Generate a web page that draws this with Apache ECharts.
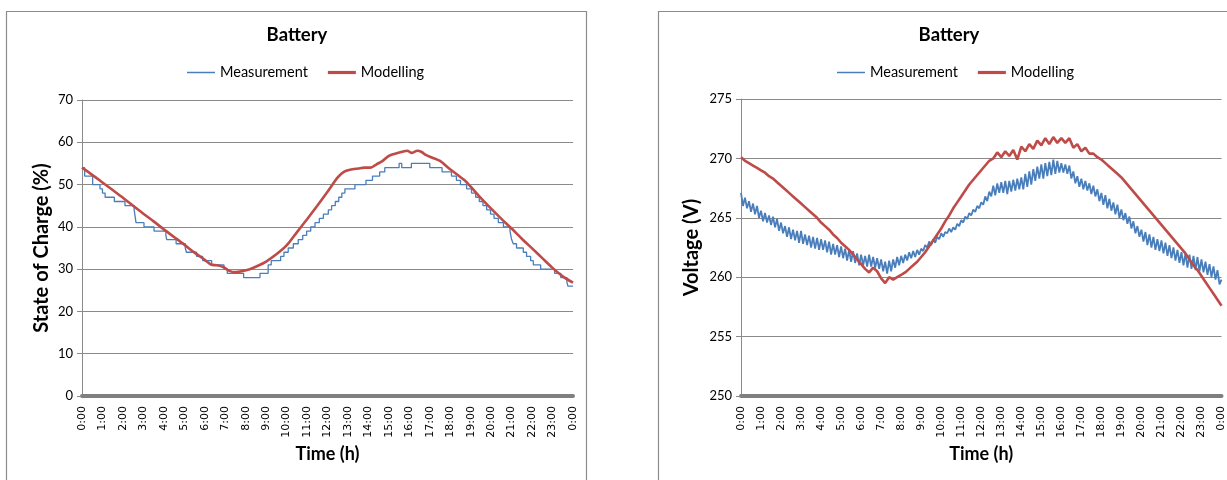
<!DOCTYPE html>
<html><head><meta charset="utf-8">
<script src="https://cdn.jsdelivr.net/npm/echarts@6/dist/echarts.min.js"></script>
<style>html,body{margin:0;padding:0;background:#fff}#c{width:1227px;height:480px}</style>
</head><body><div id="c"></div>
<script>
const hourLabels = ['0:00','1:00','2:00','3:00','4:00','5:00','6:00','7:00','8:00','9:00','10:00','11:00','12:00',
  '13:00','14:00','15:00','16:00','17:00','18:00','19:00','20:00','21:00','22:00','23:00','0:00'];
const seriesNames = ['Measurement', 'Modelling'];

// State of charge: measured (stepwise, [hour, %]) and modelled
const socMeasurement = [[0,54],[0.13,52],[0.52,50],[0.88,49],[1.0,48],[1.13,47],[1.58,46],[2.1,45],[2.55,44],[2.64,41],
  [3.03,40],[3.52,39],[4.1,38],[4.14,37],[4.6,36],[5.05,35],[5.1,34],[5.6,33],[5.9,32],[6.34,31],[6.94,30],[7.1,29],
  [7.9,28],[8.7,29],[9.1,31],[9.25,32],[9.71,33],[9.87,34],[10.08,35],[10.33,36],[10.57,37],[10.79,38],[10.98,39],
  [11.18,40],[11.39,41],[11.6,42],[11.8,43],[12.04,44],[12.2,45],[12.38,46],[12.55,47],[12.7,48],[12.85,49],[13.34,50],
  [13.88,51],[14.2,52],[14.55,53],[14.8,54],[15.5,55],[15.63,54],[16.1,55],[17.0,54],[17.6,53],[18.06,52],[18.3,51],
  [18.5,50],[18.8,49],[19.04,48],[19.24,47],[19.42,46],[19.6,45],[19.78,44],[19.97,43],[20.14,42],[20.35,41],[20.6,40],
  [20.92,39],[21.0,37],[21.08,36],[21.24,35],[21.57,34],[21.73,33],[21.93,32],[22.06,31],[22.42,30],[23.1,29],[23.4,28],
  [23.7,27],[23.75,26],[24,26]];
const socModelling = [[0,54.0],[0.5,52.3],[1.0,50.5],[1.5,48.7],[2.0,46.9],[2.5,45.0],[3.0,43.1],[3.5,41.3],[4.0,39.4],
  [4.5,37.6],[5.0,35.8],[5.5,33.9],[6.0,32.2],[6.3,31.1],[6.6,30.9],[6.9,30.5],[7.2,29.6],[7.5,29.3],[7.8,29.5],[8.2,30.0],
  [8.6,30.8],[9.0,31.8],[9.5,33.5],[10.0,35.6],[10.5,38.7],[11.0,41.8],[11.5,45.0],[12.0,48.3],[12.5,51.7],[12.8,53.0],
  [13.1,53.5],[13.5,53.8],[13.8,54.0],[14.1,54.0],[14.4,54.8],[14.7,55.6],[15.0,56.8],[15.3,57.3],[15.7,57.8],[15.9,58.0],
  [16.1,57.5],[16.4,58.0],[16.6,57.7],[16.8,57.0],[17.1,56.4],[17.5,55.6],[17.9,54.0],[18.3,52.5],[18.7,51.0],[19.0,49.5],
  [19.5,46.8],[20.0,44.3],[20.5,41.9],[21.0,39.6],[21.5,37.2],[22.0,34.9],[22.5,32.6],[23.0,30.3],[23.5,28.3],[24.0,26.8]];

// Measured voltage: sample hours (every 6 min) and values (V)
const voltMeasHours = [
  0,0.1,0.2,0.3,0.4,0.5,0.6,0.7,0.8,0.9, 1,1.1,1.2,1.3,1.4,1.5,1.6,1.7,1.8,1.9,
  2,2.1,2.2,2.3,2.4,2.5,2.6,2.7,2.8,2.9, 3,3.1,3.2,3.3,3.4,3.5,3.6,3.7,3.8,3.9,
  4,4.1,4.2,4.3,4.4,4.5,4.6,4.7,4.8,4.9, 5,5.1,5.2,5.3,5.4,5.5,5.6,5.7,5.8,5.9,
  6,6.1,6.2,6.3,6.4,6.5,6.6,6.7,6.8,6.9, 7,7.1,7.2,7.3,7.4,7.5,7.6,7.7,7.8,7.9,
  8,8.1,8.2,8.3,8.4,8.5,8.6,8.7,8.8,8.9, 9,9.1,9.2,9.3,9.4,9.5,9.6,9.7,9.8,9.9,
  10,10.1,10.2,10.3,10.4,10.5,10.6,10.7,10.8,10.9, 11,11.1,11.2,11.3,11.4,11.5,11.6,11.7,11.8,11.9,
  12,12.1,12.2,12.3,12.4,12.5,12.6,12.7,12.8,12.9, 13,13.1,13.2,13.3,13.4,13.5,13.6,13.7,13.8,13.9,
  14,14.1,14.2,14.3,14.4,14.5,14.6,14.7,14.8,14.9, 15,15.1,15.2,15.3,15.4,15.5,15.6,15.7,15.8,15.9,
  16,16.1,16.2,16.3,16.4,16.5,16.6,16.7,16.8,16.9, 17,17.1,17.2,17.3,17.4,17.5,17.6,17.7,17.8,17.9,
  18,18.1,18.2,18.3,18.4,18.5,18.6,18.7,18.8,18.9, 19,19.1,19.2,19.3,19.4,19.5,19.6,19.7,19.8,19.9,
  20,20.1,20.2,20.3,20.4,20.5,20.6,20.7,20.8,20.9, 21,21.1,21.2,21.3,21.4,21.5,21.6,21.7,21.8,21.9,
  22,22.1,22.2,22.3,22.4,22.5,22.6,22.7,22.8,22.9, 23,23.1,23.2,23.3,23.4,23.5,23.6,23.7,23.8,23.9, 24];
const voltMeasurement = [
  267.1,266.0,266.7,265.8,266.4,265.5,266.2,265.3,266.0,265.0, 265.6,264.7,265.4,264.6,265.2,264.4,265.1,264.2,264.9,263.9,
  264.6,263.7,264.3,263.4,264.2,263.2,264.0,263.1,263.9,262.9, 263.9,262.8,263.6,262.7,263.5,262.5,263.4,262.4,263.3,262.3,
  263.2,262.3,263.1,262.1,263.0,261.9,262.8,261.9,262.7,261.7, 262.6,261.6,262.4,261.4,262.3,261.3,262.2,261.2,262.0,261.0,
  261.9,261.0,261.8,260.9,261.9,260.9,261.7,260.8,261.6,260.7, 261.5,260.5,261.3,260.3,261.4,260.5,261.5,260.8,261.7,261.0,
  261.8,261.2,261.9,261.4,262.1,261.6,262.2,261.7,262.3,261.9, 262.4,262.2,262.7,262.5,263.0,262.7,263.2,262.9,263.4,263.2,
  263.7,263.4,263.8,263.7,264.1,263.8,264.2,264.0,264.5,264.3, 264.8,264.6,265.1,264.9,265.4,265.2,265.7,265.5,266.0,265.8,
  266.3,266.1,266.8,266.4,267.2,266.8,267.7,266.9,267.9,267.1, 268.0,267.1,268.1,267.0,268.1,267.2,268.2,267.3,268.3,267.4,
  268.4,267.4,268.7,267.6,268.9,267.8,269.1,268.1,269.3,268.3, 269.5,268.3,269.6,268.5,269.7,268.6,269.9,268.7,269.8,268.8,
  269.6,268.8,269.5,268.7,269.4,268.3,268.9,267.9,268.5,267.6, 268.3,267.4,268.1,267.3,267.9,267.0,267.7,266.8,267.4,266.4,
  267.1,266.1,266.9,265.8,266.6,265.6,266.3,265.3,266.1,265.0, 265.7,264.8,265.4,264.5,265.1,264.1,264.7,263.7,264.3,263.4,
  264.0,263.0,263.8,262.7,263.6,262.5,263.4,262.3,263.2,262.2, 263.1,262.0,262.9,261.8,262.7,261.6,262.5,261.4,262.3,261.2,
  262.1,261.0,262.0,260.8,261.9,260.7,261.8,260.6,261.7,260.5, 261.5,260.4,261.3,260.2,261.1,260.0,260.9,259.8,260.6,259.4,
  259.8];

// Modelled voltage: sample hours (every 12 min) and values (V)
const voltModelHours = [0,0.2,0.4,0.6,0.8,1,1.2,1.4,1.6,1.8,2,2.2,2.4,2.6,2.8,3,3.2,3.4,3.6,3.8,4,4.2,4.4,4.6,4.8,5,5.2,5.4,5.6,5.8,
  6,6.2,6.4,6.6,6.8,7,7.2,7.4,7.6,7.8,8,8.2,8.4,8.6,8.8,9,9.2,9.4,9.6,9.8,10,10.2,10.4,10.6,10.8,11,11.2,11.4,11.6,11.8,
  12,12.2,12.4,12.6,12.8,13,13.2,13.4,13.6,13.8,14,14.2,14.4,14.6,14.8,15,15.2,15.4,15.6,15.8,16,16.2,16.4,16.6,16.8,17,
  17.2,17.4,17.6,17.8,18,18.2,18.4,18.6,18.8,19,19.2,19.4,19.6,19.8,20,20.2,20.4,20.6,20.8,21,21.2,21.4,21.6,21.8,22,22.2,
  22.4,22.6,22.8,23,23.2,23.4,23.6,23.8,24];
const voltModelling = [270.1,269.8,269.6,269.4,269.2,269.0,268.8,268.5,268.3,268.0,267.7,267.4,267.1,266.8,266.5,266.2,
  265.9,265.6,265.3,265.0,264.6,264.3,264.0,263.6,263.3,262.9,262.6,262.3,261.9,261.5,261.1,260.7,260.4,260.8,260.5,259.9,
  259.5,260.0,259.8,260.0,260.2,260.4,260.7,261.0,261.3,261.7,262.1,262.6,263.1,263.6,264.1,264.7,265.2,265.8,266.3,266.8,
  267.3,267.8,268.2,268.6,269.0,269.4,269.8,270.0,270.5,270.1,270.6,270.2,270.7,269.9,271.0,270.6,271.2,270.8,271.5,271.1,
  271.7,271.2,271.8,271.3,271.7,271.3,271.7,270.9,271.2,270.6,270.9,270.4,270.4,270.1,269.9,269.6,269.3,269.0,268.7,268.4,
  268.0,267.6,267.2,266.8,266.4,266.0,265.6,265.2,264.8,264.4,264.0,263.6,263.2,262.8,262.4,262.0,261.5,261.0,260.6,260.1,
  259.6,259.1,258.6,258.1,257.6];

const FONT = 'Lato, "Open Sans", sans-serif';
const TICKFONT = '"DejaVu Sans", sans-serif';
const BLUE = '#4A7EBB', RED = '#BE4B48', GRID = '#8a8a8a';
const pair = (xs, ys) => xs.map((x, i) => [x, ys[i]]);

function xAxis(gi) {
  return {
    type: 'value', gridIndex: gi, min: 0, max: 24, interval: 1,
    name: 'Time (h)', nameLocation: 'middle', nameGap: 48,
    nameTextStyle: { fontFamily: FONT, fontSize: 18, fontWeight: 'bold', color: '#000' },
    axisLine: { show: true, lineStyle: { color: '#7f7f7f', width: 4 } },
    axisTick: { show: false }, splitLine: { show: false },
    axisLabel: { rotate: 90, fontFamily: TICKFONT, fontSize: 11, color: '#000', margin: 10,
      formatter: v => hourLabels[Math.round(v)] }
  };
}
function yAxis(gi, min, max, interval, name, gap) {
  return {
    type: 'value', gridIndex: gi, min, max, interval,
    name, nameLocation: 'middle', nameGap: gap,
    nameTextStyle: { fontFamily: FONT, fontSize: 20, fontWeight: 'bold', color: '#000' },
    axisLine: { show: true, lineStyle: { color: GRID, width: 1 } },
    axisTick: { show: true, length: 5, lineStyle: { color: GRID } },
    splitLine: { show: true, lineStyle: { color: GRID, width: 1 } },
    axisLabel: { fontFamily: FONT, fontSize: 13, color: '#000', margin: 9 }
  };
}
function legend(left) {
  return {
    orient: 'horizontal', left, top: 60, itemWidth: 28, itemHeight: 14, itemGap: 20,
    data: [
      { name: seriesNames[0], icon: 'path://M0,0L28,0L28,1.5L0,1.5Z' },
      { name: seriesNames[1], icon: 'path://M0,0L28,0L28,3.2L0,3.2Z' }
    ],
    selectedMode: false,
    textStyle: { fontFamily: FONT, fontSize: 14.5, color: '#000' }
  };
}

const chart = echarts.init(document.getElementById('c'), null, { renderer: 'canvas' });
chart.setOption({
  backgroundColor: '#fff',
  animation: false,
  graphic: [
    { type: 'rect', shape: { x: 6.5, y: 11.5, width: 580, height: 480 }, style: { fill: 'none', stroke: '#8c8c8c', lineWidth: 1.2 } },
    { type: 'rect', shape: { x: 658.5, y: 11.5, width: 600, height: 480 }, style: { fill: 'none', stroke: '#8c8c8c', lineWidth: 1.2 } },
    { type: 'text', x: 297, y: 35, style: { text: 'Battery', align: 'center', verticalAlign: 'middle', font: 'bold 18.5px ' + FONT, fill: '#000' } },
    { type: 'text', x: 949, y: 35, style: { text: 'Battery', align: 'center', verticalAlign: 'middle', font: 'bold 18.5px ' + FONT, fill: '#000' } }
  ],
  legend: [legend(182), legend(832)],
  grid: [
    { left: 82, right: 1227 - 573, top: 100, bottom: 480 - 396 },
    { left: 741, right: 1227 - 1222, top: 99, bottom: 480 - 396 }
  ],
  xAxis: [xAxis(0), xAxis(1)],
  yAxis: [yAxis(0, 0, 70, 10, 'State of Charge (%)', 30), yAxis(1, 250, 275, 5, 'Voltage (V)', 39)],
  series: [
    { name: 'Measurement', type: 'line', xAxisIndex: 0, yAxisIndex: 0, step: 'end', symbol: 'none',
      data: socMeasurement, lineStyle: { color: BLUE, width: 1.3 }, itemStyle: { color: BLUE } },
    { name: 'Modelling', type: 'line', xAxisIndex: 0, yAxisIndex: 0, symbol: 'none', smooth: 0.3,
      data: socModelling, lineStyle: { color: RED, width: 2.6 }, itemStyle: { color: RED } },
    { name: 'Measurement', type: 'line', xAxisIndex: 1, yAxisIndex: 1, symbol: 'none',
      data: pair(voltMeasHours, voltMeasurement), lineStyle: { color: BLUE, width: 1.8 }, itemStyle: { color: BLUE } },
    { name: 'Modelling', type: 'line', xAxisIndex: 1, yAxisIndex: 1, symbol: 'none',
      data: pair(voltModelHours, voltModelling), lineStyle: { color: RED, width: 2.6 }, itemStyle: { color: RED } }
  ]
});
</script></body></html>
